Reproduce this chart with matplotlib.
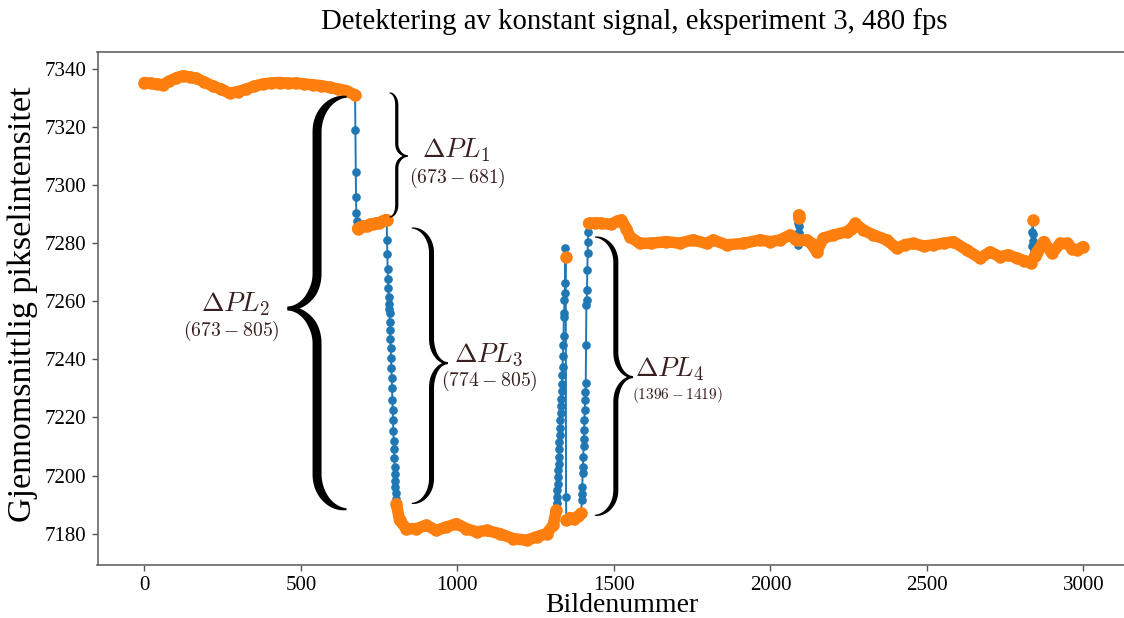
import numpy as np
import matplotlib
matplotlib.use('Agg')
import matplotlib.pyplot as plt
from matplotlib.patches import Polygon

plt.rcParams['font.family'] = ['Liberation Serif', 'DejaVu Serif']
plt.rcParams['mathtext.fontset'] = 'cm'

# ---------------- data (frame number, mean pixel intensity) ----------------
# constant segments (orange) and transitions (blue only)
p1_f = [0, 20, 40, 58, 80, 100, 122, 145, 165, 190, 218, 245, 272, 300, 325, 350,
        378, 405, 432, 460, 485, 510, 538, 565, 592, 620, 645, 673]
p1_v = [7335.3, 7335.0, 7334.8, 7334.5, 7335.8, 7336.8, 7337.6, 7337.2, 7336.8, 7335.5,
        7334.1, 7333.0, 7331.6, 7332.2, 7333.0, 7334.0, 7334.8, 7335.1, 7335.3, 7335.0,
        7335.1, 7334.8, 7334.5, 7334.2, 7333.6, 7333.0, 7332.5, 7331.0]
t1_f = [674, 675, 676, 677, 678, 679, 680]
t1_v = [7319.0, 7304.5, 7296.0, 7290.5, 7287.5, 7286.0, 7285.5]
p2_f = [681, 690, 700, 710, 720, 730, 740, 750, 760, 770, 774]
p2_v = [7285.0, 7285.5, 7286.0, 7286.0, 7286.5, 7286.5, 7287.0, 7287.0, 7287.5, 7288.0, 7288.0]
t2_f = list(range(775, 805))
t2_v = [7281.0, 7276.3, 7271.0, 7267.5, 7264.5, 7261.5, 7259.0, 7257.5, 7256.0, 7253.0,
        7250.0, 7247.0, 7244.0, 7240.5, 7237.0, 7233.5, 7230.0, 7226.0, 7222.5, 7219.0,
        7215.5, 7212.0, 7209.0, 7206.0, 7203.0, 7200.5, 7198.0, 7196.0, 7194.0, 7192.0]
p3_f = [805, 815, 837, 869, 901, 933, 965, 997, 1029, 1061, 1093, 1135, 1178, 1221,
        1253, 1285, 1306, 1316]
p3_v = [7190.3, 7184.6, 7181.7, 7181.7, 7182.9, 7181.1, 7182.3, 7183.4, 7181.7, 7180.6,
        7181.1, 7180.0, 7178.3, 7177.7, 7178.9, 7180.0, 7182.9, 7188.0]
t3_f = list(range(1317, 1346))
t3_v = [7190.5, 7192.5, 7195.0, 7197.0, 7199.5, 7202.0, 7204.0, 7206.5, 7209.0, 7211.5,
        7214.0, 7216.5, 7219.0, 7221.5, 7224.0, 7226.5, 7229.0, 7231.5, 7234.5, 7237.5,
        7241.0, 7245.0, 7248.0, 7254.5, 7255.8, 7260.4, 7262.7, 7266.2, 7278.2]
p4_f = [1346]
p4_v = [7275.3]
t4_f = [1347]
t4_v = [7192.6]
p5_f = [1348, 1360, 1372, 1385, 1396]
p5_v = [7184.6, 7185.5, 7185.0, 7186.0, 7187.0]
t5_f = list(range(1397, 1419))
t5_v = [7191.5, 7193.8, 7196.1, 7200.7, 7203.0, 7206.4, 7210.0, 7212.7, 7215.6, 7219.0,
        7222.5, 7226.0, 7228.8, 7231.7, 7244.9, 7258.7, 7260.4, 7263.8, 7270.7, 7276.5,
        7280.5, 7283.9]
p6_f = [1419, 1440, 1460, 1490, 1510, 1524, 1540, 1551, 1583, 1620, 1668, 1710, 1753,
        1796, 1817, 1860, 1913, 1967, 2000, 2031, 2063, 2080, 2086]
p6_v = [7286.8, 7287.0, 7286.8, 7286.5, 7287.5, 7288.0, 7285.0, 7282.2, 7279.9, 7280.0,
        7280.5, 7280.0, 7281.1, 7279.9, 7281.1, 7279.4, 7279.9, 7281.1, 7280.5, 7281.1,
        7282.8, 7281.5, 7281.0]
t6_f = [2087, 2088, 2089]
t6_v = [7279.5, 7283.5, 7286.8]
p7_f = [2090, 2091]
p7_v = [7289.7, 7288.8]
t7_f = [2092, 2093, 2094]
t7_v = [7286.0, 7283.5, 7281.0]
p8_f = [2095, 2116, 2130, 2148, 2169, 2201, 2244, 2258, 2271, 2297, 2329, 2372, 2404,
        2430, 2457, 2490, 2521, 2555, 2585, 2628, 2670, 2702, 2734, 2760, 2788, 2810,
        2830, 2834]
p8_v = [7281.0, 7281.1, 7280.0, 7277.0, 7281.7, 7282.8, 7283.9, 7285.0, 7286.8, 7284.5,
        7282.8, 7281.1, 7278.2, 7279.5, 7279.9, 7279.0, 7279.4, 7280.0, 7280.5, 7277.6,
        7274.8, 7277.0, 7275.3, 7276.0, 7274.8, 7274.0, 7273.6, 7273.0]
t8_f = [2835, 2836, 2837]
t8_v = [7272.8, 7279.0, 7284.0]
p9_f = [2838]
p9_v = [7287.8]
t9_f = [2839, 2840, 2841, 2842, 2843]
t9_v = [7283.1, 7280.9, 7279.3, 7277.6, 7276.5]
p10_f = [2844, 2852, 2873, 2900, 2926, 2948, 2965, 2980, 2999]
p10_v = [7275.5, 7277.0, 7280.5, 7276.5, 7279.9, 7279.9, 7278.0, 7277.6, 7278.8]

constant_segments = [(p1_f, p1_v), (p2_f, p2_v), (p3_f, p3_v), (p4_f, p4_v), (p5_f, p5_v),
                     (p6_f, p6_v), (p7_f, p7_v), (p8_f, p8_v), (p9_f, p9_v), (p10_f, p10_v)]
all_segments = [(p1_f, p1_v), (t1_f, t1_v), (p2_f, p2_v), (t2_f, t2_v), (p3_f, p3_v),
                (t3_f, t3_v), (p4_f, p4_v), (t4_f, t4_v), (p5_f, p5_v), (t5_f, t5_v),
                (p6_f, p6_v), (t6_f, t6_v), (p7_f, p7_v), (t7_f, t7_v), (p8_f, p8_v),
                (t8_f, t8_v), (p9_f, p9_v), (t9_f, t9_v), (p10_f, p10_v)]

# annotation labels
labels_main = [r'$\Delta PL_1$', r'$\Delta PL_2$', r'$\Delta PL_3$', r'$\Delta PL_4$']
labels_sub = [r'$(673-681)$', r'$(673-805)$', r'$(774-805)$', r'$(1396-1419)$']

title = 'Detektering av konstant signal, eksperiment 3, 480 fps'
xlabel = 'Bildenummer'
ylabel = 'Gjennomsnittlig pikselintensitet'
xticks = [0, 500, 1000, 1500, 2000, 2500, 3000]
yticks = [7180, 7200, 7220, 7240, 7260, 7280, 7300, 7320, 7340]

# ---------------- figure ----------------
W, H = 1124, 618
fig = plt.figure(figsize=(W / 100, H / 100), dpi=100)
ax = fig.add_axes([97.5 / W, 53 / H, (1130 - 97.5) / W, (565 - 52) / H])
ax.set_xlim(-150, 3149)
ax.set_ylim(7169.2, 7345.8)

all_f = np.concatenate([np.asarray(f, float) for f, v in all_segments])
all_v = np.concatenate([np.asarray(v, float) for f, v in all_segments])
ax.plot(all_f, all_v, '-o', color='#1f77b4', lw=1.4, ms=5.2, zorder=2)
for f, v in constant_segments:
    ax.plot(f, v, '-o', color='#ff7f0e', lw=8.3, ms=8.0, solid_capstyle='round',
            solid_joinstyle='round', zorder=3)

ax.set_xticks(xticks)
ax.set_yticks(yticks)
ax.tick_params(labelsize=15, length=4, width=1, color='#555555', pad=4)
for s in ax.spines.values():
    s.set_color('#666666')
    s.set_linewidth(1.2)

fig.text(634 / W, 1 - 22 / H, title, ha='center', va='center', fontsize=20.7)
fig.text(622 / W, 1 - 606 / H, xlabel, ha='center', va='center', fontsize=20)
fig.text(23 / W, 1 - 304 / H, ylabel, ha='center', va='center', fontsize=24.5, rotation=90)


def bez(p0, p1, p2, p3, n=40):
    t = np.linspace(0, 1, n)[:, None]
    return ((1 - t) ** 3 * p0 + 3 * (1 - t) ** 2 * t * p1
            + 3 * (1 - t) * t ** 2 * p2 + t ** 3 * p3)


def half_poly(pts, r, w_max, w_min):
    d = np.r_[0, np.cumsum(np.hypot(*np.diff(pts, axis=0).T))]
    L = d[-1]
    f_end = np.clip(d / (1.3 * r), 0, 1)
    f_tip = 0.25 + 0.75 * np.clip((L - d) / (0.9 * r), 0, 1)
    w = w_min + (w_max - w_min) * np.sin(f_end * np.pi / 2) * f_tip
    tang = np.gradient(pts, axis=0)
    tang /= np.hypot(tang[:, 0], tang[:, 1])[:, None]
    nrm = np.c_[-tang[:, 1], tang[:, 0]]
    left = pts + nrm * w[:, None] / 2
    right = pts - nrm * w[:, None] / 2
    return np.vstack([left, right[::-1]])


def draw_brace(x_hook, x_tip, y_top, y_bot, y_mid, w_max, spine_frac=0.5):
    T = ax.transData
    xh, yt = T.transform((x_hook, y_top))
    xt, yb = T.transform((x_tip, y_bot))
    ym = T.transform((x_tip, y_mid))[1]
    r = float(np.clip(0.09 * (yt - yb), 12, 35))
    xs = xh + spine_frac * (xt - xh)
    P = lambda x, y: np.array([x, y], float)
    up = np.vstack([
        bez(P(xh, yt), P(xh + 0.55 * (xs - xh), yt), P(xs, yt - 0.45 * r), P(xs, yt - r)),
        np.linspace(P(xs, yt - r), P(xs, ym + r), 40)[1:],
        bez(P(xs, ym + r), P(xs, ym + 0.45 * r), P(xs + 0.45 * (xt - xs), ym), P(xt, ym))[1:],
    ])
    lo = np.vstack([
        bez(P(xh, yb), P(xh + 0.55 * (xs - xh), yb), P(xs, yb + 0.45 * r), P(xs, yb + r)),
        np.linspace(P(xs, yb + r), P(xs, ym - r), 40)[1:],
        bez(P(xs, ym - r), P(xs, ym - 0.45 * r), P(xs + 0.45 * (xt - xs), ym), P(xt, ym))[1:],
    ])
    w_min = max(1.0, 0.2 * w_max)
    inv = T.inverted()
    for pts in (up, lo):
        poly = half_poly(pts, r, w_max, w_min)
        ax.add_patch(Polygon(inv.transform(poly), closed=True, facecolor='black',
                             edgecolor='none', clip_on=False, zorder=4))


# braces: (hook x, tip x, top, bottom, tip y) in data coordinates
draw_brace(783, 841, 7331.7, 7289.0, 7310.0, 3.2, 0.4)
draw_brace(646, 457, 7330.4, 7188.4, 7257.5, 9.0, 0.5)
draw_brace(854, 969, 7285.2, 7190.4, 7238.7, 5.0, 0.55)
draw_brace(1439, 1561, 7282.1, 7186.3, 7233.9, 5.0, 0.55)

tcol = '#3a1f1f'
main_pos = [(997, 7312.1), (290, 7259.0), (1100, 7241.8), (1679, 7236.6)]
sub_pos = [(1001, 7302.6), (277, 7249.7), (1103, 7232.7), (1703, 7227.7)]
sub_size = [14.2, 14.2, 14.2, 11]
for lab, (x, y) in zip(labels_main, main_pos):
    ax.text(x, y, lab, ha='center', va='center', fontsize=19.5, color=tcol, zorder=5)
for lab, (x, y), s in zip(labels_sub, sub_pos, sub_size):
    ax.text(x, y, lab, ha='center', va='center', fontsize=s, color=tcol, zorder=5)

fig.savefig('out.png', dpi=100)
